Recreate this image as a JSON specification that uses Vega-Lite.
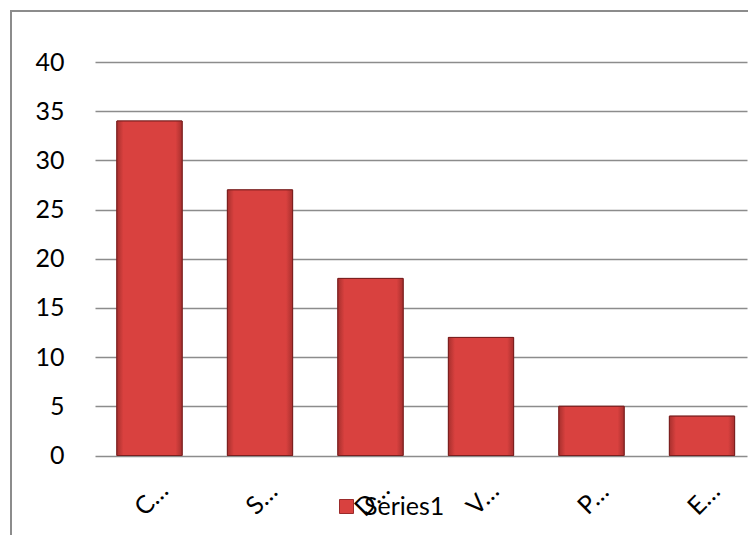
{
  "$schema": "https://vega.github.io/schema/vega-lite/v6.json",
  "autosize": {"type": "none"},
  "padding": {"left": 11, "top": 11, "right": 0, "bottom": 0},
  "width": 760,
  "height": 540,
  "background": "white",
  "config": {
    "view": {"stroke": "#8c8c8c", "strokeWidth": 2},
    "font": "Lato"
  },
  "data": {
    "values": [
      {"category": "C…", "value": 34, "series": "Series1"},
      {"category": "S…", "value": 27, "series": "Series1"},
      {"category": "D…", "value": 18, "series": "Series1"},
      {"category": "V…", "value": 12, "series": "Series1"},
      {"category": "P…", "value": 5, "series": "Series1"},
      {"category": "E…", "value": 4, "series": "Series1"}
    ]
  },
  "encoding": {
    "x": {
      "field": "category",
      "type": "nominal",
      "sort": null,
      "scale": {"range": [83.25, 746.25], "paddingInner": 0.41, "paddingOuter": 0.205},
      "axis": {
        "title": null,
        "orient": "bottom",
        "offset": -95.5,
        "domain": false,
        "ticks": false,
        "grid": false,
        "labelAngle": -45,
        "labelAlign": "center",
        "labelBaseline": "middle",
        "labelPadding": 43,
        "labelOffset": 2,
        "labelFont": "Lato",
        "labelFontSize": 25,
        "labelColor": "#000000"
      }
    },
    "y": {
      "field": "value",
      "type": "quantitative",
      "scale": {"domain": [0, 40], "range": [444.5, 51], "nice": false},
      "axis": {
        "title": null,
        "orient": "left",
        "offset": -84,
        "values": [0, 5, 10, 15, 20, 25, 30, 35, 40],
        "domain": false,
        "grid": false,
        "ticks": true,
        "tickSize": -652,
        "tickColor": "#8c8c8c",
        "tickWidth": 1.5,
        "labelPadding": 683,
        "labelFont": "Lato",
        "labelFontSize": 25,
        "labelColor": "#000000",
        "labelBaseline": "middle"
      }
    }
  },
  "layer": [
    {
      "mark": {"type": "bar", "stroke": "#7a1f1f", "strokeWidth": 1},
      "encoding": {
        "color": {
          "field": "series",
          "type": "nominal",
          "scale": {"range": ["#d9413f"]},
          "legend": {
            "title": null,
            "orient": "none",
            "legendX": 323,
            "legendY": 483,
            "padding": 0,
            "symbolType": "square",
            "symbolSize": 196,
            "symbolStrokeColor": "#9b2b2b",
            "symbolStrokeWidth": 1,
            "labelFont": "Lato",
            "labelFontSize": 25,
            "labelColor": "#000000",
            "labelOffset": 5
          }
        }
      }
    },
    {
      "mark": {
        "type": "bar",
        "stroke": "#7a1f1f",
        "strokeWidth": 1,
        "color": {
          "gradient": "linear",
          "x1": 0, "x2": 1, "y1": 0, "y2": 0,
          "stops": [
            {"offset": 0, "color": "#a8302e"},
            {"offset": 0.1, "color": "#d9413f"},
            {"offset": 0.9, "color": "#d9413f"},
            {"offset": 1, "color": "#a8302e"}
          ]
        }
      }
    }
  ]
}
